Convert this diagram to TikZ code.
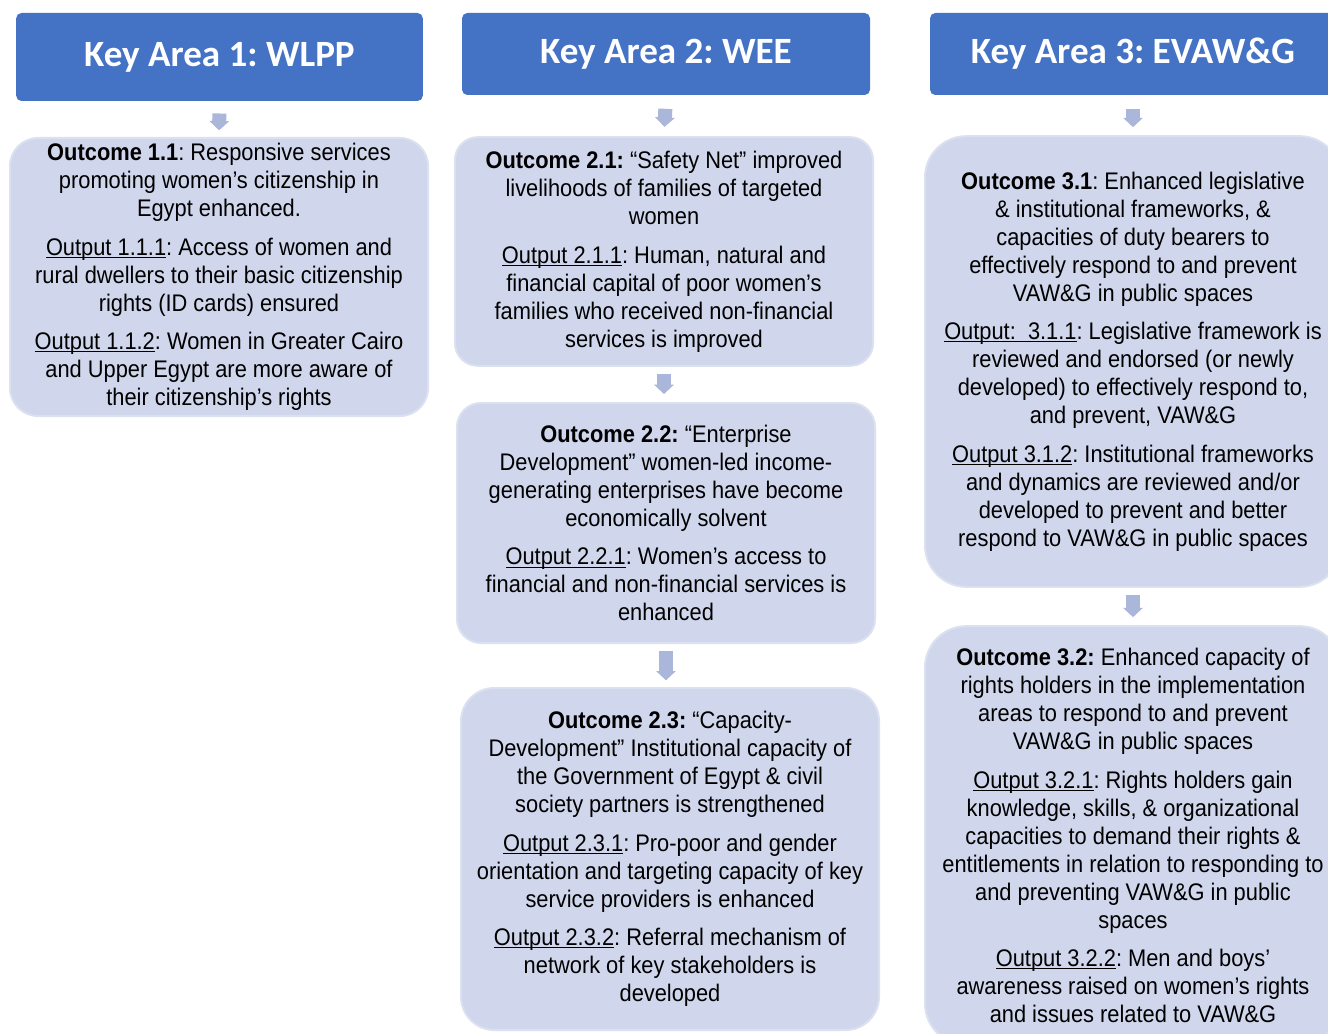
\documentclass[tikz,border=0pt]{standalone}
\usepackage{fontspec}
\setmainfont{Liberation Sans}[FakeStretch=0.91]
\newfontfamily\hdfont{Carlito}
\usetikzlibrary{arrows.meta}

\definecolor{keyblue}{RGB}{68,114,196}
\definecolor{boxfill}{RGB}{208,214,235}
\definecolor{boxline}{RGB}{220,225,241}
\definecolor{arrowfill}{RGB}{170,182,218}

\tikzset{every picture/.style={line width=0.75pt}}
\tikzset{
  keyarea/.style={fill=keyblue, draw=none, rounded corners=4pt, text=white,
    font=\hdfont\bfseries\fontsize{27.8}{33}\selectfont, inner sep=0pt},
  outcome/.style={fill=boxfill, draw=boxline, line width=1.5pt, align=center,
    font=\fontsize{18}{21}\selectfont, inner sep=0pt},
  downarrow/.style={draw=arrowfill, line width=10.5pt,
    -{Triangle[width=14.5pt,length=7pt]}, arrowfill}
}
\newcommand{\outp}[1]{\underline{\smash{#1}}}
\frenchspacing

\begin{document}
\begin{tikzpicture}[x=0.75pt,y=0.75pt,yscale=-1,xscale=1]
\useasboundingbox (0,0) rectangle (1328,1034);
\clip (0,0) rectangle (1328,1034);

%Key area headers
\node (h1) at (219.5,57) [keyarea, minimum width=305pt, minimum height=66pt] {Key Area 1: WLPP};
\node (h2) at (666,54) [keyarea, minimum width=306pt, minimum height=61.5pt] {Key Area 2: WEE};
\node (h3) at (1133,54) [keyarea, minimum width=304.5pt, minimum height=61.5pt] {Key Area 3: EVAW\&G};

%Outcome boxes, column 1
\node (o11) at (219,277) [outcome, rounded corners=21pt, minimum width=313.5pt, minimum height=208.5pt] {%
\textbf{Outcome 1.1}: Responsive services\\ promoting women’s citizenship in\\ Egypt enhanced.\\[8pt]
\outp{Output 1.1.1}: Access of women and\\ rural dwellers to their basic citizenship\\ rights (ID cards) ensured\\[8pt]
\outp{Output 1.1.2}: Women in Greater Cairo\\ and Upper Egypt are more aware of\\ their citizenship’s rights};

%Outcome boxes, column 2
\node (o21) at (664,251.5) [outcome, rounded corners=17pt, minimum width=313.5pt, minimum height=171.5pt] {%
\textbf{Outcome 2.1:} “Safety Net” improved\\ livelihoods of families of targeted\\ women\\[8pt]
\outp{Output 2.1.1}: Human, natural and\\ financial capital of poor women’s\\ families who received non-financial\\ services is improved};

\node (o22) at (666,523) [outcome, rounded corners=18pt, minimum width=313.5pt, minimum height=180pt] {%
\textbf{Outcome 2.2:} “Enterprise\\ Development” women-led income-\\ generating enterprises have become\\ economically solvent\\[8pt]
\outp{Output 2.2.1}: Women’s access to\\ financial and non-financial services is\\ enhanced};

\node (o23) at (670,859) [outcome, rounded corners=25pt, minimum width=313.5pt, minimum height=256.5pt] {%
\textbf{Outcome 2.3:} “Capacity-\\ Development” Institutional capacity of\\ the Government of Egypt \& civil\\ society partners is strengthened\\[8pt]
\outp{Output 2.3.1}: Pro-poor and gender\\ orientation and targeting capacity of key\\ service providers is enhanced\\[8pt]
\outp{Output 2.3.2}: Referral mechanism of\\ network of key stakeholders is\\ developed};

%Outcome boxes, column 3
\node (o31) at (1133,361.5) [outcome, rounded corners=31pt, minimum width=312pt, minimum height=338pt] {%
\textbf{Outcome 3.1}: Enhanced legislative\\ \& institutional frameworks, \&\\ capacities of duty bearers to\\ effectively respond to and prevent\\ VAW\&G in public spaces\\[8pt]
\outp{Output:\ \ 3.1.1}: Legislative framework is\\ reviewed and endorsed (or newly\\ developed) to effectively respond to,\\ and prevent, VAW\&G\\[8pt]
\outp{Output 3.1.2}: Institutional frameworks\\ and dynamics are reviewed and/or\\ developed to prevent and better\\ respond to VAW\&G in public spaces};

\node (o32) at (1133,835.5) [outcome, rounded corners=31pt, minimum width=312pt, minimum height=314pt] {%
\textbf{Outcome 3.2:} Enhanced capacity of\\ rights holders in the implementation\\ areas to respond to and prevent\\ VAW\&G in public spaces\\[8pt]
\outp{Output 3.2.1}: Rights holders gain\\ knowledge, skills, \& organizational\\ capacities to demand their rights \&\\ entitlements in relation to responding to\\ and preventing VAW\&G in public\\ spaces\\[8pt]
\outp{Output 3.2.2}: Men and boys’\\ awareness raised on women’s rights\\ and issues related to VAW\&G};

%Block arrows
\draw [downarrow, shorten <=9pt, shorten >=5pt] (h1.south) -- (o11.north);
\draw [downarrow, shorten <=10pt, shorten >=7pt] (h2.south) -- (o21.north);
\draw [downarrow, shorten <=10pt, shorten >=6pt] (h3.south) -- (o31.north);
\draw [downarrow, shorten <=5pt, shorten >=6pt] (o21.south) -- (o21.south |- o22.north);
\draw [downarrow, shorten <=5pt, shorten >=5pt] (o22.south) -- (o22.south |- o23.north);
\draw [downarrow, shorten <=5pt, shorten >=6pt] (o31.south) -- (o32.north);

\end{tikzpicture}
\end{document}
